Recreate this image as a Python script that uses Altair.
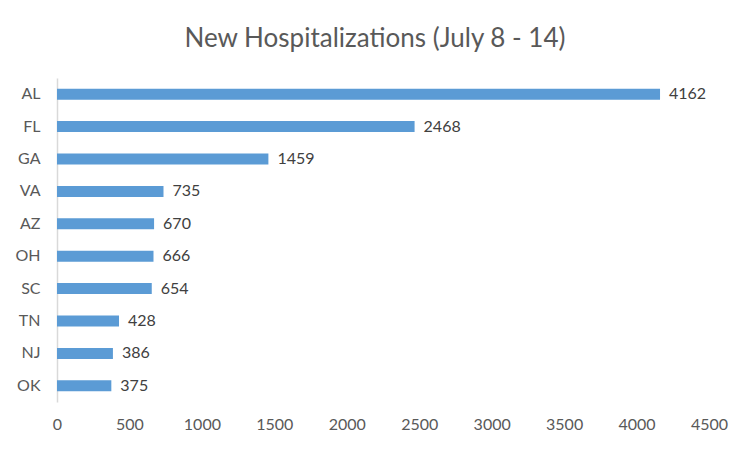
import altair as alt
import pandas as pd

states = ["AL", "FL", "GA", "VA", "AZ", "OH", "SC", "TN", "NJ", "OK"]
values = [4162, 2468, 1459, 735, 670, 666, 654, 428, 386, 375]
x_ticks = [0, 500, 1000, 1500, 2000, 2500, 3000, 3500, 4000, 4500]

df = pd.DataFrame({"state": states, "value": values})

FONT = "Lato"
GREY = "#595959"

y_enc = alt.Y("state:N", sort=states, title=None,
              scale=alt.Scale(paddingInner=0.66, paddingOuter=0.33),
              axis=alt.Axis(ticks=False, domainColor="#d9d9d9", domainWidth=1.5,
                            labelFontSize=16, labelColor=GREY, labelFont=FONT,
                            labelPadding=17))
x_enc = alt.X("value:Q", title=None,
              scale=alt.Scale(domain=[0, 4500], nice=False),
              axis=alt.Axis(values=x_ticks, grid=False, domain=False, ticks=False,
                            format="d",
                            labelFontSize=16, labelColor=GREY, labelFont=FONT,
                            labelPadding=14, labelFlush=False))

bars = alt.Chart(df).mark_bar(color="#5B9BD5").encode(x=x_enc, y=y_enc)
labels = alt.Chart(df).mark_text(align="left", baseline="middle", dx=9,
                                 fontSize=16, font=FONT, color="#404040").encode(
    x=alt.X("value:Q"), y=alt.Y("state:N", sort=states), text="value:Q")

chart = (bars + labels).properties(
    width=652, height=324,
    autosize=alt.AutoSizeParams(type="none"),
    padding={"left": 49, "top": 70, "right": 35, "bottom": 42},
    title=alt.TitleParams("New Hospitalizations (July 8 - 14)", fontSize=26,
                          font=FONT, fontWeight="normal", color=GREY,
                          anchor="middle", offset=26, dx=-8),
).configure(background="white").configure_view(strokeWidth=0, stroke="transparent")

chart.save("out.html", embed_options={"renderer": "svg", "actions": False})
